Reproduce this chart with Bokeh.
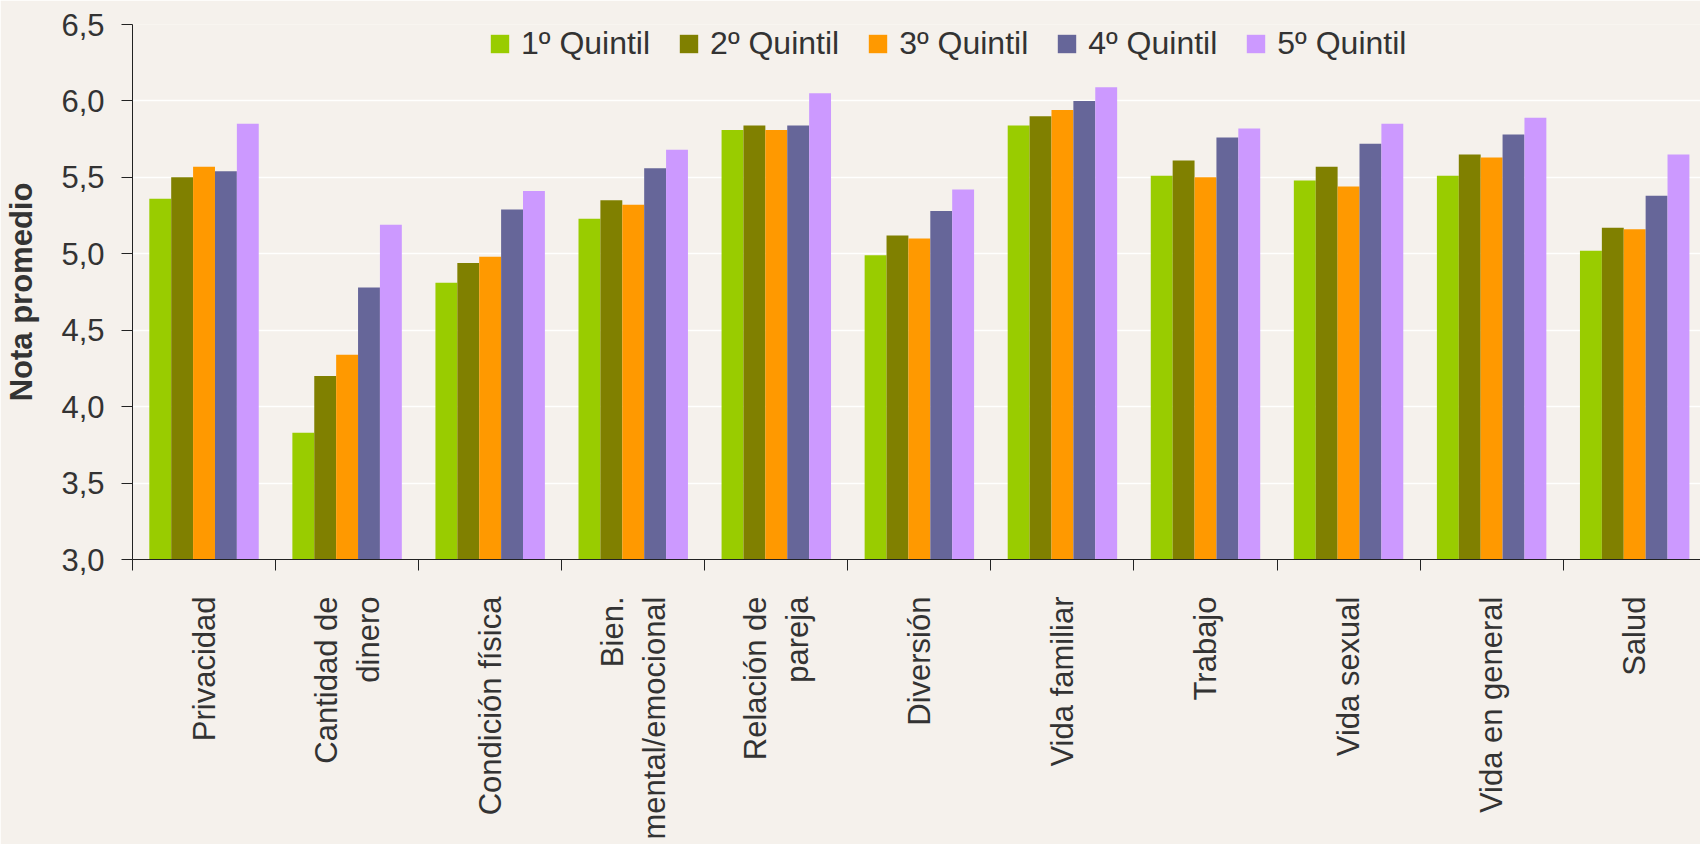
import math
from bokeh.plotting import figure
from bokeh.models import (Range1d, FixedTicker, Legend, LegendItem,
                          CustomJSTickFormatter, ColumnDataSource)
from bokeh.transform import dodge
from bokeh.embed import file_html
from bokeh.resources import INLINE

# ---- data ----
categories = ["Privacidad", "Cantidad de\ndinero", "Condición física",
              "Bien.\nmental/emocional", "Relación de\npareja", "Diversión",
              "Vida familiar", "Trabajo", "Vida sexual", "Vida en general", "Salud"]
series_names = ["1º Quintil", "2º Quintil", "3º Quintil", "4º Quintil", "5º Quintil"]
q1 = [5.36, 3.83, 4.81, 5.23, 5.81, 4.99, 5.84, 5.51, 5.48, 5.51, 5.02]
q2 = [5.50, 4.20, 4.94, 5.35, 5.84, 5.12, 5.90, 5.61, 5.57, 5.65, 5.17]
q3 = [5.57, 4.34, 4.98, 5.32, 5.81, 5.10, 5.94, 5.50, 5.44, 5.63, 5.16]
q4 = [5.54, 4.78, 5.29, 5.56, 5.84, 5.28, 6.00, 5.76, 5.72, 5.78, 5.38]
q5 = [5.85, 5.19, 5.41, 5.68, 6.05, 5.42, 6.09, 5.82, 5.85, 5.89, 5.65]
y_ticks = [3.0, 3.5, 4.0, 4.5, 5.0, 5.5, 6.0, 6.5]
colors = ["#99CC00", "#808000", "#FF9900", "#666699", "#CC99FF"]

FONT = "Liberation Sans"
TXT = "#333333"
BG = "#f5f1ec"

n = len(categories)
x_pos = [i + 0.5 for i in range(n)]
source = ColumnDataSource(dict(x=x_pos, q1=q1, q2=q2, q3=q3, q4=q4, q5=q5))

p = figure(width=1700, height=844,
           x_range=Range1d(0, 10.96), y_range=Range1d(3.0, 6.5),
           output_backend="svg", toolbar_location=None,
           min_border_left=132, min_border_right=0,
           min_border_top=24, min_border_bottom=285)
p.background_fill_color = BG
p.border_fill_color = BG
p.outline_line_color = None

bw = 0.153
offsets = [-2 * bw, -bw, 0.0, bw, 2 * bw]
keys = ["q1", "q2", "q3", "q4", "q5"]
renderers = []
for k, off, c in zip(keys, offsets, colors):
    r = p.vbar(x=dodge("x", off, range=p.x_range), top=k, bottom=3.0,
               width=bw, source=source, fill_color=c, line_color=None)
    renderers.append(r)

legend = Legend(items=[LegendItem(label=s, renderers=[r]) for s, r in zip(series_names, renderers)],
                orientation="horizontal", location=(356, 497),
                background_fill_alpha=0, border_line_color=None,
                label_text_font_size="32px", label_text_font=FONT,
                label_text_color=TXT, glyph_width=23, glyph_height=23,
                label_height=36,
                label_standoff=10, spacing=27, padding=0, margin=0)
p.add_layout(legend)

# grid
p.xgrid.grid_line_color = None
p.ygrid.ticker = FixedTicker(ticks=y_ticks)
p.ygrid.grid_line_color = "white"
p.ygrid.grid_line_width = 1.5
p.ygrid.grid_line_alpha = 0.95

# y axis
p.yaxis.ticker = FixedTicker(ticks=y_ticks)
p.yaxis.formatter = CustomJSTickFormatter(code="return tick.toFixed(1).replace('.', ',');")
p.yaxis.axis_line_color = "#222222"
p.yaxis.major_tick_line_color = "#222222"
p.yaxis.major_tick_out = 11
p.yaxis.major_tick_in = 0
p.yaxis.minor_tick_line_color = None
p.yaxis.major_label_standoff = 17
p.yaxis.major_label_text_font = FONT
p.yaxis.major_label_text_font_size = "31px"
p.yaxis.major_label_text_color = TXT
p.yaxis.axis_label = "Nota promedio"
p.yaxis.axis_label_text_font = FONT
p.yaxis.axis_label_text_font_style = "bold"
p.yaxis.axis_label_text_font_size = "31px"
p.yaxis.axis_label_text_color = TXT
p.yaxis.axis_label_standoff = 19

# x axis
p.xaxis.ticker = FixedTicker(ticks=x_pos, minor_ticks=list(range(n + 1)))
p.xaxis.formatter = CustomJSTickFormatter(args=dict(labels=categories),
                                          code="return labels[Math.floor(tick)];")
p.xaxis.axis_line_color = "#222222"
p.xaxis.major_tick_line_color = None
p.xaxis.major_tick_out = 0
p.xaxis.major_tick_in = 0
p.xaxis.minor_tick_line_color = "#222222"
p.xaxis.minor_tick_out = 11
p.xaxis.minor_tick_in = 0
p.xaxis.major_label_orientation = math.pi / 2
p.xaxis.major_label_standoff = 26
p.xaxis.major_label_text_font = FONT
p.xaxis.major_label_text_font_size = "31px"
p.xaxis.major_label_text_color = TXT

open("out.html", "w").write(file_html(p, INLINE))
